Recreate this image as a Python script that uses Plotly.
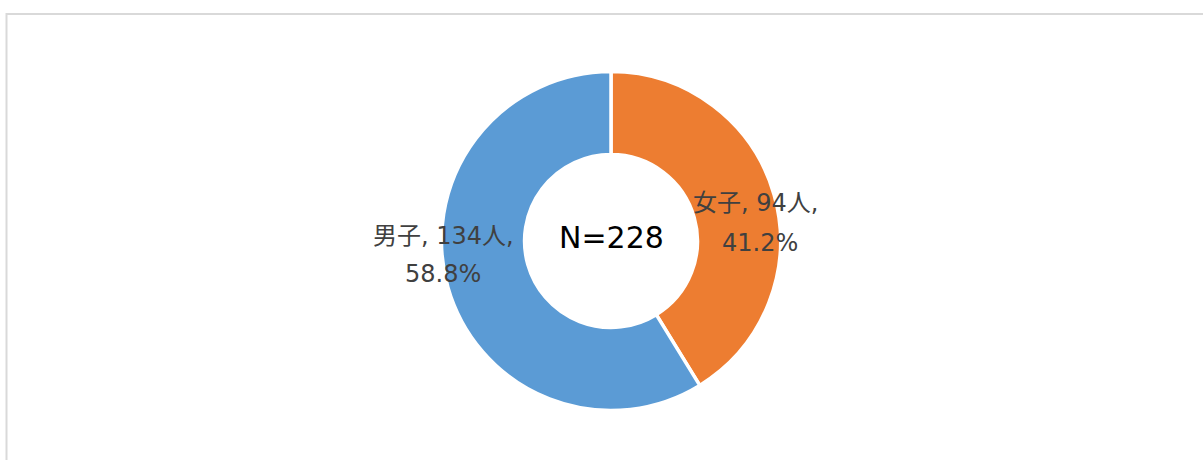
import plotly.graph_objects as go

labels = ["女子", "男子"]
values = [94, 134]
colors = ["#ED7D31", "#5B9BD5"]
total_label = "N=228"
percents = ["41.2%", "58.8%"]

W, H = 1203, 460
cx, cy, R = 611, 241, 169.5

fig = go.Figure()
fig.add_trace(go.Pie(
    labels=labels, values=values, sort=False, direction="clockwise", rotation=0,
    hole=0.51, textinfo="none", hoverinfo="label+value+percent",
    marker=dict(colors=colors, line=dict(color="white", width=3.5)),
    domain=dict(x=[(cx - R) / W, (cx + R) / W], y=[1 - (cy + R) / H, 1 - (cy - R) / H]),
    showlegend=False,
))

lab_font = dict(family="DejaVu Sans, Noto Sans CJK JP", size=24, color="#404040")
pos = {
    "女子": [(755, 203), (760, 243)],
    "男子": [(443, 236), (443, 274)],
}
for lab, v, p in zip(labels, values, percents):
    lines = [f"{lab}, {v}人,", p]
    for txt, (px, py) in zip(lines, pos[lab]):
        fig.add_annotation(x=px / W, y=1 - py / H, xref="paper", yref="paper",
                           text=txt, showarrow=False, xanchor="center", yanchor="middle",
                           font=lab_font)

fig.add_annotation(x=cx / W, y=1 - 237 / H, xref="paper", yref="paper", text=total_label,
                   showarrow=False, xanchor="center", yanchor="middle",
                   font=dict(family="DejaVu Sans", size=30, color="#000000"))

fig.add_shape(type="rect", xref="paper", yref="paper",
              x0=6.5 / W, x1=1.02, y0=-0.02, y1=1 - 14 / H,
              line=dict(color="#D9D9D9", width=2), fillcolor="rgba(0,0,0,0)")

fig.update_layout(width=W, height=H, margin=dict(l=0, r=0, t=0, b=0),
                  paper_bgcolor="white", plot_bgcolor="white")
fig.write_html("out.html", config={"displayModeBar": False},
               post_script="document.body.style.margin='0';document.body.style.overflow='hidden';")
